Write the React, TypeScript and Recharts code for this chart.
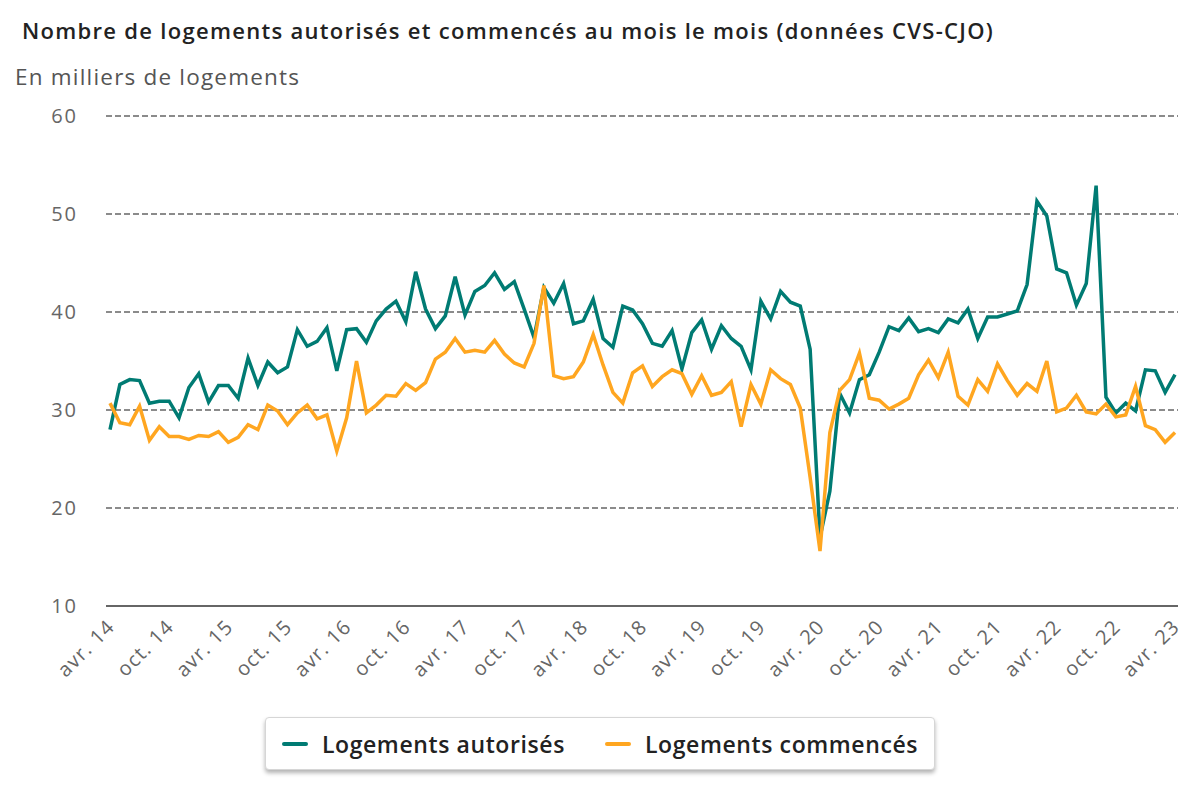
import { LineChart, Line, XAxis, YAxis, CartesianGrid } from 'recharts';

// Libellés des mois (axe des abscisses)
const MONTHS = ['janv.', 'févr.', 'mars', 'avr.', 'mai', 'juin', 'juil.', 'août', 'sept.', 'oct.', 'nov.', 'déc.'];
const START_YEAR = 14;
const START_MONTH = 3; // avr.

// Logements autorisés (milliers, CVS-CJO)
const AUTORISES = [
  28.0, 32.6, 33.1, 33.0, 30.7, 30.9, 30.9, 29.2, 32.3, 33.7, 30.8, 32.5,
  32.5, 31.2, 35.3, 32.5, 34.9, 33.8, 34.4, 38.2, 36.5, 37.0, 38.4, 34.0,
  38.2, 38.3, 36.9, 39.1, 40.3, 41.1, 39.0, 44.1, 40.3, 38.3, 39.6, 43.6,
  39.7, 42.1, 42.7, 44.0, 42.3, 43.1, 40.3, 37.4, 42.5, 40.9, 42.9, 38.8,
  39.1, 41.3, 37.3, 36.4, 40.6, 40.2, 38.8, 36.8, 36.5, 38.1, 34.2, 37.9,
  39.2, 36.2, 38.6, 37.3, 36.5, 34.1, 41.1, 39.3, 42.1, 41.0, 40.6, 36.2,
  17.0, 21.7, 31.7, 29.7, 33.1, 33.6, 35.9, 38.5, 38.1, 39.4, 38.0, 38.3,
  37.9, 39.3, 38.9, 40.3, 37.3, 39.5, 39.5, 39.8, 40.1, 42.8, 51.3, 49.8,
  44.4, 44.0, 40.7, 42.9, 52.9, 31.3, 29.7, 30.7, 29.9, 34.1, 34.0, 31.8,
  33.6,
];

// Logements commencés (milliers, CVS-CJO)
const COMMENCES = [
  30.7, 28.7, 28.5, 30.4, 26.9, 28.3, 27.3, 27.3, 27.0, 27.4, 27.3, 27.8,
  26.7, 27.2, 28.5, 28.0, 30.5, 29.9, 28.5, 29.7, 30.5, 29.1, 29.5, 25.8,
  29.2, 35.0, 29.7, 30.5, 31.5, 31.4, 32.7, 32.0, 32.8, 35.2, 35.9, 37.3,
  35.9, 36.1, 35.9, 37.1, 35.7, 34.8, 34.4, 36.8, 42.7, 33.5, 33.2, 33.4,
  34.9, 37.7, 34.6, 31.8, 30.7, 33.8, 34.5, 32.4, 33.4, 34.1, 33.7, 31.6,
  33.5, 31.5, 31.8, 32.9, 28.3, 32.6, 30.6, 34.1, 33.2, 32.6, 30.2, 23.1,
  15.6, 27.7, 32.0, 33.1, 35.8, 31.2, 31.0, 30.1, 30.6, 31.2, 33.6, 35.1,
  33.3, 35.9, 31.4, 30.5, 33.1, 31.9, 34.7, 33.0, 31.5, 32.7, 31.9, 35.0,
  29.8, 30.2, 31.5, 29.8, 29.6, 30.6, 29.3, 29.5, 32.4, 28.4, 28.0, 26.7,
  27.7,
];

const Y_TICKS = [10, 20, 30, 40, 50, 60];

const TEAL = '#007b73';
const ORANGE = '#ffa620';
const FONT = '"Open Sans", sans-serif';

const data = AUTORISES.map((v, i) => {
  const m = START_MONTH + i;
  const label = `${MONTHS[m % 12]} ${START_YEAR + Math.floor(m / 12)}`;
  return { label, autorises: v, commences: COMMENCES[i] };
});

const YTick = ({ y, payload }: any) => (
  <text x={78} y={y} dy={7} textAnchor="end" fill="#666" fontSize={20} letterSpacing={2} fontFamily={FONT}>
    {payload.value}
  </text>
);

const XTick = ({ x, y, payload }: any) => (
  <g transform={`translate(${x + 6},${y + 14})`}>
    <text x={0} y={0} textAnchor="end" transform="rotate(-45)" fill="#666" fontSize={20} letterSpacing={1.2} fontFamily={FONT}>
      {payload.value}
    </text>
  </g>
);

const LEGEND_ITEMS = [
  { name: 'Logements autorisés', color: TEAL },
  { name: 'Logements commencés', color: ORANGE },
];

export default function App() {
  return (
    <div style={{ position: 'absolute', left: 0, top: 0, width: 1200, height: 800, background: '#fff' }}>
      <div style={{ position: 'absolute', left: 22, top: 15, fontFamily: FONT, fontSize: 22, fontWeight: 600, letterSpacing: 1.3, color: '#222', whiteSpace: 'nowrap' }}>
        Nombre de logements autorisés et commencés au mois le mois (données CVS-CJO)
      </div>
      <div style={{ position: 'absolute', left: 15, top: 61, fontFamily: FONT, fontSize: 22.5, letterSpacing: 1.2, color: '#555', whiteSpace: 'nowrap' }}>
        En milliers de logements
      </div>
      <div style={{ position: 'absolute', left: 0, top: 0 }}>
        <LineChart width={1200} height={800} data={data} margin={{ top: 116, right: 22, bottom: 0, left: 0 }}>
          <CartesianGrid vertical={false} stroke="#666" strokeDasharray="6 3" strokeWidth={1.5} />
          <XAxis
            dataKey="label"
            interval={5}
            tickLine={false}
            axisLine={{ stroke: '#666', strokeWidth: 2 }}
            tick={<XTick />}
            padding={{ left: 4, right: 3 }}
            height={194}
          />
          <YAxis
            domain={[10, 60]}
            ticks={Y_TICKS}
            axisLine={false}
            tickLine={false}
            tick={<YTick />}
            width={106}
          />
          <Line type="linear" dataKey="autorises" stroke={TEAL} strokeWidth={3.5} dot={false} isAnimationActive={false} />
          <Line type="linear" dataKey="commences" stroke={ORANGE} strokeWidth={3.5} dot={false} isAnimationActive={false} />
        </LineChart>
      </div>
      <div
        style={{
          position: 'absolute',
          left: 265,
          top: 717,
          width: 670,
          height: 53,
          boxSizing: 'border-box',
          display: 'flex',
          alignItems: 'center',
          justifyContent: 'center',
          gap: 40,
          border: '1px solid #d6d6d6',
          borderRadius: 4,
          boxShadow: '0 3px 4px rgba(0,0,0,0.3)',
          background: '#fff',
          fontFamily: FONT,
          fontSize: 23,
          fontWeight: 600,
          letterSpacing: 0.6,
          color: '#222',
        }}
      >
        {LEGEND_ITEMS.map((item) => (
          <div key={item.name} style={{ display: 'flex', alignItems: 'center', gap: 14 }}>
            <div style={{ width: 26, height: 4, borderRadius: 2, background: item.color }} />
            <span style={{ whiteSpace: 'nowrap' }}>{item.name}</span>
          </div>
        ))}
      </div>
    </div>
  );
}
